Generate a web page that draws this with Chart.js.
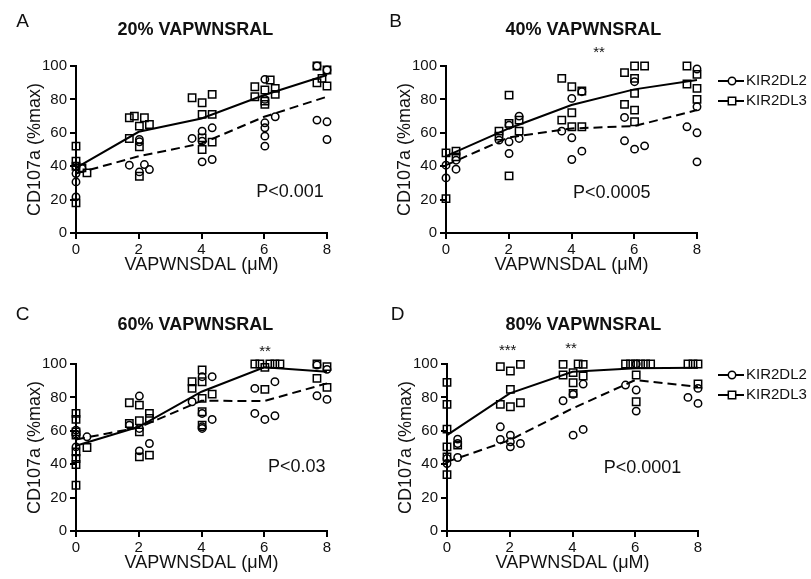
<!DOCTYPE html>
<html>
<head>
<meta charset="utf-8">
<script src="https://cdn.jsdelivr.net/npm/chart.js@4.4.1/dist/chart.umd.min.js"></script>
<style>
  html, body { margin: 0; padding: 0; background: #fff; overflow: hidden; width: 811px; height: 579px; }
  canvas { position: absolute; }
</style>
</head>
<body>
<canvas id="pA" width="441" height="290" style="left:0px;top:0px"></canvas>
<canvas id="pB" width="441" height="290" style="left:370px;top:0px"></canvas>
<canvas id="pC" width="441" height="290" style="left:0px;top:298px"></canvas>
<canvas id="pD" width="441" height="290" style="left:371px;top:298px"></canvas>
<script>
// doses on the x axis (µM) where the mean lines have vertices
const doses = [0, 2, 4, 6, 8];

// panel A - 20% VAPWNSRAL
const aLineL2 = [35.6, 46, 53.6, 69.6, 81.6];
const aLineL3 = [39, 60.6, 68.6, 82.6, 94.6];
const aPtsL2 = [[0,40],[0,35.6],[0,30.6],[0,21.6],[0.19,38.6],
  [1.7,40.6],[2.02,54.6],[2.02,56],[2.18,41],[2.34,38],[2.02,36.6],
  [3.7,56.6],[4.02,61],[4.34,63],[4.02,42.6],[4.34,44],[4.02,55],
  [6.02,92],[6.02,66],[6.02,63],[6.02,58],[6.02,52],[6.35,69.6],[6.02,80],
  [7.68,100],[8,97.6],[7.68,67.6],[8,66.6],[8,56]];
const aPtsL3 = [[0,52],[0,43],[0,40],[0,18],[0.19,39],[0.35,36],
  [1.7,69],[1.86,70],[2.02,64],[2.18,69],[2.34,65],[1.7,56.6],[2.02,51.6],[2.02,34],
  [3.7,81],[4.02,78],[4.34,83],[4.02,71],[4.34,71],[4.02,57],[4.02,50],[4.34,54.4],
  [5.7,87.6],[6.02,85.6],[6.19,91.6],[6.35,86.6],[6.35,83],[5.7,81.6],[6.02,79],[6.02,77],
  [7.68,100],[8,97.6],[7.84,92.6],[7.68,90],[8,88]];

// panel B - 40% VAPWNSRAL
const bLineL2 = [40.6, 57.2, 62.6, 64, 73.6];
const bLineL3 = [46, 62.6, 76.6, 86, 91.6];
const bPtsL2 = [[0,40.6],[0,33],[0.32,38.2],[0.32,43.6],
  [2.01,64.6],[2.33,70],[1.69,55.6],[2.01,54.6],[2.01,47.6],[2.33,56.6],
  [3.69,61],[4.01,80.6],[4.33,84.6],[4.01,57],[4.01,44],[4.33,49],
  [6.01,90.6],[5.69,69.2],[5.69,55.2],[6.01,50.2],[6.33,52.2],
  [8,98.2],[8,75.6],[7.68,63.6],[8,60],[8,42.6]];
const bPtsL3 = [[0,48],[0,20.6],[0.32,49],[0.32,45.6],
  [2.01,82.6],[2.01,65.6],[2.01,34.2],[1.69,61],[2.33,67.6],[2.33,61],[1.69,58],
  [3.69,92.6],[4.01,87.6],[4.33,85],[4.01,72],[3.69,67.6],[4.01,63.6],[4.33,63.6],
  [5.69,96],[6.01,100],[6.33,100],[6.01,92.6],[6.01,83.6],[5.69,77],[6.01,73.6],[6.01,66.6],
  [7.68,100],[8,95],[7.68,89.2],[8,86.6],[8,80]];

// panel C - 60% VAPWNSRAL
const cLineL2 = [54.8, 62, 78, 77.8, 88.4];
const cLineL3 = [51, 62.4, 83.4, 98, 95.4];
const cPtsL2 = [[0,60.4],[0,50.4],[0,58],[0.35,56.4],
  [2.02,80.8],[1.7,63.4],[2.02,61.4],[2.02,48],[2.34,52.4],
  [4.34,92.4],[4.02,92.4],[3.7,77.4],[4.02,70.4],[4.34,66.8],[4.02,62.4],[4.02,61.4],
  [5.7,85.4],[6.34,89.4],[5.7,70.4],[6.02,66.8],[6.34,69],
  [7.68,99.4],[8,96.8],[7.68,81],[8,78.8]];
const cPtsL3 = [[0,70.4],[0,66.8],[0,59.4],[0,57.4],[0,47.4],[0,43.4],[0,39.8],[0,27.4],[0.35,50],
  [1.7,76.8],[2.02,75.4],[1.7,64.4],[2.02,66],[2.34,70.4],[2.34,67.4],[2.02,59.4],[2.02,44.4],[2.34,45.4],
  [4.02,96.4],[3.7,89.4],[3.7,85.4],[4.02,89.4],[4.02,79.4],[4.34,82],[4.02,71.4],[4.02,63.4],
  [5.7,100],[5.86,100],[6.02,98],[6.18,100],[6.34,100],[6.5,100],[6.02,84.8],
  [7.68,100],[8,98.4],[7.68,91.4],[8,86]];

// panel D - 80% VAPWNSRAL
const dLineL2 = [41.4, 54.4, 73.4, 90.4, 86.4];
const dLineL3 = [57.4, 82.4, 95.4, 97.4, 97.8];
const dPtsL2 = [[0,43.4],[0,40.4],[0.34,55],[0.34,52.4],[0.34,44],
  [1.7,62.4],[1.7,54.8],[2.02,57.4],[2.02,53.4],[2.02,50.4],[2.34,52.4],
  [3.7,78],[4.02,81.8],[4.34,88],[4.02,57.4],[4.34,60.8],
  [5.69,87.4],[6.03,84.4],[6.03,71.8],[6.03,100],
  [8,85.4],[7.68,80],[8,76.4]];
const dPtsL3 = [[0,89],[0,75.8],[0,61],[0,50.4],[0,44.4],[0,33.8],[0.34,51.4],
  [1.7,98.4],[2.02,95.8],[2.34,99.8],[2.02,84.8],[1.7,75.8],[2.02,74.4],[2.34,76.8],
  [3.7,99.8],[4.02,94.8],[4.18,100],[4.34,99.8],[3.7,93.4],[4.34,92.8],[4.02,88.8],[4.02,82.4],
  [5.69,100],[5.85,100],[6.01,100],[6.17,100],[6.33,100],[6.49,100],[6.03,93.4],[6.03,77.4],
  [7.68,100],[7.84,100],[8,100],[8,88]];

const FONT = '"Liberation Sans", Arial, Helvetica, sans-serif';
Chart.defaults.font.family = FONT;
Chart.defaults.color = '#111';

function xy(pairs) {
  return pairs.map(p => ({ x: p[0], y: p[1] }));
}
function lineData(vals) {
  return doses.map((d, i) => ({ x: d, y: vals[i] }));
}

// text overlay: panel letter, title, p value, stars, legend
function overlay(p) {
  return {
    id: 'overlay',
    afterDraw(chart) {
      const ctx = chart.ctx;
      ctx.save();
      ctx.fillStyle = '#111';
      ctx.textAlign = 'center';
      ctx.textBaseline = 'middle';
      ctx.font = '19px ' + FONT;
      ctx.fillText(p.letter, p.letterAt[0], p.letterAt[1]);
      ctx.font = 'bold 18px ' + FONT;
      ctx.fillText(p.title, p.titleAt[0], p.titleAt[1]);
      ctx.font = '18px ' + FONT;
      ctx.fillText(p.pText, p.pAt[0], p.pAt[1]);
      ctx.font = '15px ' + FONT;
      ctx.textBaseline = 'alphabetic';
      p.stars.forEach(s => ctx.fillText(s[0], s[1], s[2] + 8.5));
      if (p.legendY) {
        const names = ['KIR2DL2', 'KIR2DL3'];
        names.forEach((n, i) => {
          const y = p.legendY + i * 20;
          const x0 = p.legendX;
          ctx.strokeStyle = '#000';
          ctx.lineWidth = 2;
          ctx.beginPath();
          ctx.moveTo(x0 - 14, y);
          ctx.lineTo(x0 + 12, y);
          ctx.stroke();
          ctx.fillStyle = '#fff';
          ctx.lineWidth = 1.5;
          ctx.beginPath();
          if (i === 0) ctx.arc(x0, y, 3.7, 0, Math.PI * 2);
          else ctx.rect(x0 - 3.7, y - 3.7, 7.4, 7.4);
          ctx.fill();
          ctx.stroke();
          ctx.fillStyle = '#111';
          ctx.font = '15px ' + FONT;
          ctx.textAlign = 'left';
          ctx.textBaseline = 'middle';
          ctx.fillText(n, x0 + 14, y);
        });
      }
      ctx.restore();
    }
  };
}

function makePanel(id, ptsL2, ptsL3, lineL2, lineL3, p) {
  new Chart(document.getElementById(id), {
    type: 'scatter',
    data: {
      datasets: [
        { label: 'KIR2DL2 mean', data: lineData(lineL2), showLine: true, borderColor: '#000',
          borderWidth: 2, borderDash: [9, 5], pointRadius: 0, clip: false },
        { label: 'KIR2DL3 mean', data: lineData(lineL3), showLine: true, borderColor: '#000',
          borderWidth: 2, pointRadius: 0, clip: false },
        { label: 'KIR2DL2', data: xy(ptsL2), pointStyle: 'circle', pointRadius: 3.7,
          borderColor: '#000', borderWidth: 1.5, backgroundColor: 'rgba(0,0,0,0)', clip: false },
        { label: 'KIR2DL3', data: xy(ptsL3), pointStyle: 'rect', pointRadius: 5.2,
          borderColor: '#000', borderWidth: 1.5, backgroundColor: 'rgba(0,0,0,0)', clip: false }
      ]
    },
    options: {
      responsive: false,
      animation: false,
      devicePixelRatio: 1,
      layout: { padding: { top: 66, right: 114, left: 0, bottom: 0 } },
      plugins: { legend: { display: false }, tooltip: { enabled: false } },
      scales: {
        x: {
          type: 'linear', min: 0, max: 8,
          ticks: { stepSize: 2, font: { size: 15 }, padding: 2, color: '#111' },
          grid: { drawOnChartArea: false, drawTicks: true, tickLength: 6, color: '#000', lineWidth: 2 },
          border: { color: '#000', width: 2 },
          title: { display: true, text: 'VAPWNSDAL (\u03bcM)', font: { size: 18 }, padding: { top: 0, bottom: 14 }, color: '#111' },
          afterFit(scale) { scale.height = 57; }
        },
        y: {
          min: 0, max: 100,
          ticks: { stepSize: 20, font: { size: 15 }, padding: 3, color: '#111' },
          grid: { drawOnChartArea: false, drawTicks: true, tickLength: 6, color: '#000', lineWidth: 2 },
          border: { color: '#000', width: 2 },
          title: { display: true, text: 'CD107a (%max)', font: { size: 18 }, padding: { top: 24, bottom: 0 }, color: '#111' },
          afterFit(scale) { scale.width = 76; }
        }
      }
    },
    plugins: [overlay(p)]
  });
}

makePanel('pA', aPtsL2, aPtsL3, aLineL2, aLineL3, {
  letter: 'A', letterAt: [22.5, 21.7], title: '20% VAPWNSRAL', titleAt: [195.3, 30],
  pText: 'P<0.001', pAt: [290, 191.7], stars: []
});
makePanel('pB', bPtsL2, bPtsL3, bLineL2, bLineL3, {
  letter: 'B', letterAt: [25.5, 21.7], title: '40% VAPWNSRAL', titleAt: [213.3, 30],
  pText: 'P<0.0005', pAt: [241.7, 193.3], stars: [['**', 229, 48]],
  legendX: 362, legendY: 81
});
makePanel('pC', cPtsL2, cPtsL3, cLineL2, cLineL3, {
  letter: 'C', letterAt: [22.5, 17], title: '60% VAPWNSRAL', titleAt: [195.3, 26.7],
  pText: 'P<0.03', pAt: [296.7, 168.7], stars: [['**', 265, 49.5]]
});
makePanel('pD', dPtsL2, dPtsL3, dLineL2, dLineL3, {
  letter: 'D', letterAt: [26.5, 17], title: '80% VAPWNSRAL', titleAt: [212.3, 26.7],
  pText: 'P<0.0001', pAt: [271.5, 170.3], stars: [['***', 136.7, 48], ['**', 200, 46.3]],
  legendX: 361, legendY: 77
});
</script>
</body>
</html>
